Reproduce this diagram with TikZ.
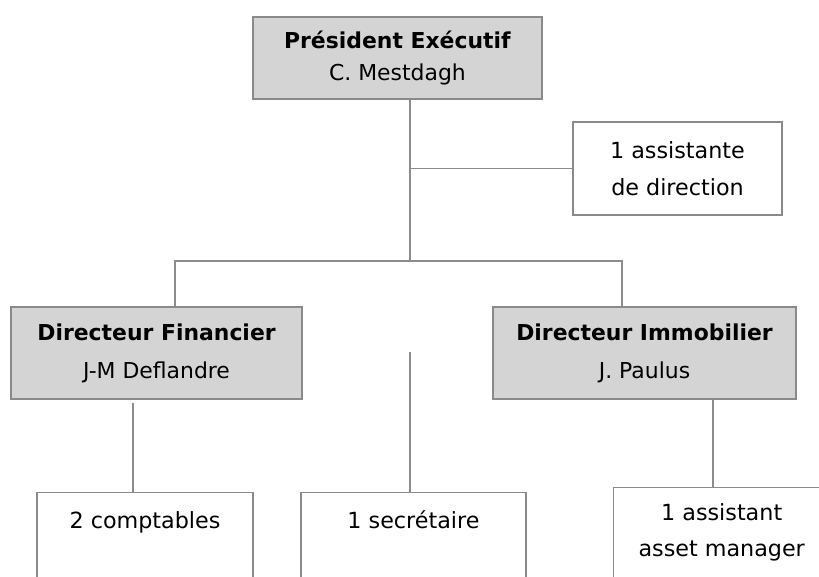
\documentclass[tikz,border=0pt]{standalone}
\usepackage{fontspec}
\setmainfont{DejaVu Sans}
\usepackage{xcolor}
\usetikzlibrary{positioning}
\definecolor{headgray}{HTML}{D4D4D4}
\definecolor{boxgray}{HTML}{8A8A8A}
\definecolor{linegray}{HTML}{8C8C8C}
\tikzstyle{headbox} = [rectangle, draw=boxgray, fill=headgray, line width=1pt, align=center, inner sep=0pt]
\tikzstyle{staffbox} = [rectangle, draw=boxgray, fill=white, line width=1pt, align=center, inner sep=0pt]
\tikzstyle{link} = [draw=linegray, line width=1.2pt]

\begin{document}
\begin{tikzpicture}[x=0.03cm, y=-0.03cm]
\useasboundingbox (0,0) rectangle (819,576);
\clip (0,0) rectangle (819,576);
\fill[white] (0,0) rectangle (819,576);

% direction
\node[headbox, minimum width=8.67cm, minimum height=2.46cm, font=\fontsize{18.7}{26.5}\selectfont] (pres) at (397.5,58)
                {\textbf{Président Exécutif}\\C. Mestdagh};
\node[staffbox, minimum width=6.27cm, minimum height=2.79cm, font=\fontsize{19}{31.5}\selectfont] (asst) at (677.5,168.5)
                {1 assistante\\de direction};

% directeurs
\node[headbox, minimum width=8.73cm, minimum height=2.76cm, font=\fontsize{18.7}{32.4}\selectfont] (dfin) at (156.5,353)
                {\textbf{Directeur Financier}\\J-M Deflandre};
\node[headbox, minimum width=9.09cm, minimum height=2.76cm, font=\fontsize{18.7}{32.4}\selectfont] (dimmo) at (644.5,353)
                {\textbf{Directeur Immobilier}\\J. Paulus};

% personnel
\node[staffbox, anchor=north, minimum width=6.48cm, text height=1.08cm, text depth=3cm, font=\fontsize{19}{30.7}\selectfont] (compt) at (145,492) {2 comptables};
\node[staffbox, anchor=north, minimum width=6.75cm, text height=1.08cm, text depth=3cm, font=\fontsize{19}{30.7}\selectfont] (secr) at (413.5,492) {1 secrétaire};
\node[staffbox, anchor=north, minimum width=6.51cm, text height=2.07cm, text depth=3cm, font=\fontsize{19}{30.7}\selectfont] (mgr) at (721.7,487)
                {\begin{tabular}[b]{@{}c@{}}1 assistant\\asset manager\end{tabular}};

% liaisons
\coordinate (trunk) at (410,261);
\coordinate (lbend) at (175,261);
\coordinate (rbend) at (622,261);
\coordinate (cstart) at (133,403);
\coordinate (sstart) at (410,352);
\coordinate (mline) at (713,399);
\draw[link] (pres.south -| trunk) -- (trunk);
\draw[link] (asst.west -| trunk) -- (asst.west);
\draw[link] (lbend |- dfin.north) -- (lbend) -- (rbend) -- (rbend |- dimmo.north);
\draw[link] (cstart) -- (cstart |- compt.north);
\draw[link] (sstart) -- (sstart |- secr.north);
\draw[link] (mline |- dimmo.south) -- (mline |- mgr.north);
\end{tikzpicture}
\end{document}
